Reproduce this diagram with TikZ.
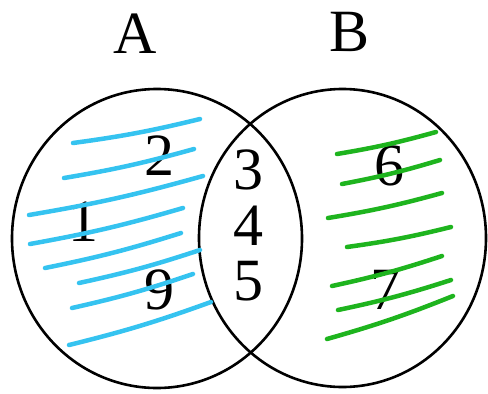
\documentclass[tikz,border=0pt]{standalone}
\usepackage{fontspec}
\setmainfont{Liberation Serif}
\definecolor{hatchblue}{HTML}{35C3F0}
\definecolor{hatchgreen}{HTML}{1EB41E}
\tikzset{
  setline/.style={line width=2.6pt, black},
  lbl/.style={inner sep=0pt, font=\fontsize{60}{60}\selectfont},
  bluestroke/.style={line width=4.5pt, hatchblue, line cap=round},
  greenstroke/.style={line width=4.5pt, hatchgreen, line cap=round}
}
\begin{document}
\begin{tikzpicture}[x=1pt,y=-1pt]
\useasboundingbox (0,0) rectangle (488,394);
% sets
\draw[setline] (157,238.5) ellipse [x radius=145, y radius=149.5];
\draw[setline] (342.5,238) ellipse [x radius=143.5, y radius=149];
% labels
\node[lbl] (lA) at (135,34) {A};
\node[lbl] (lB) at (350,32) {B};
\node[lbl] (n1) at (83,222) {1};
\node[lbl] (n2) at (159,156) {2};
\node[lbl] (n9) at (159,290) {9};
\node[lbl] (n3) at (248,170) {3};
\node[lbl] (n4) at (248,226) {4};
\node[lbl] (n5) at (248,281) {5};
\node[lbl] (n6) at (389,166) {6};
\node[lbl] (n7) at (385,290) {7};
% blue hatching (A only)
\draw[bluestroke] (73,143) to[bend right=3] (200,119);
\draw[bluestroke] (64,178) to[bend right=3] (194,149);
\draw[bluestroke] (29,215) to[bend right=3] (203,176);
\draw[bluestroke] (30,244) to[bend right=3] (183,208);
\draw[bluestroke] (45,268) to[bend right=3] (181,233);
\draw[bluestroke] (79,283) to[bend right=3] (200,250);
\draw[bluestroke] (72,308) to[bend right=3] (193,274);
\draw[bluestroke] (69,345) to[bend right=3] (211,302);
% green hatching (B only)
\draw[greenstroke] (337,154) to[bend right=3] (436,132);
\draw[greenstroke] (342,184) to[bend right=3] (440,160);
\draw[greenstroke] (328,218) to[bend right=3] (442,193);
\draw[greenstroke] (347,247) to[bend right=3] (451,227);
\draw[greenstroke] (332,286) to[bend right=3] (442,256);
\draw[greenstroke] (338,310) to[bend right=3] (451,280);
\draw[greenstroke] (327,339) to[bend right=3] (453,296);
\end{tikzpicture}
\end{document}
